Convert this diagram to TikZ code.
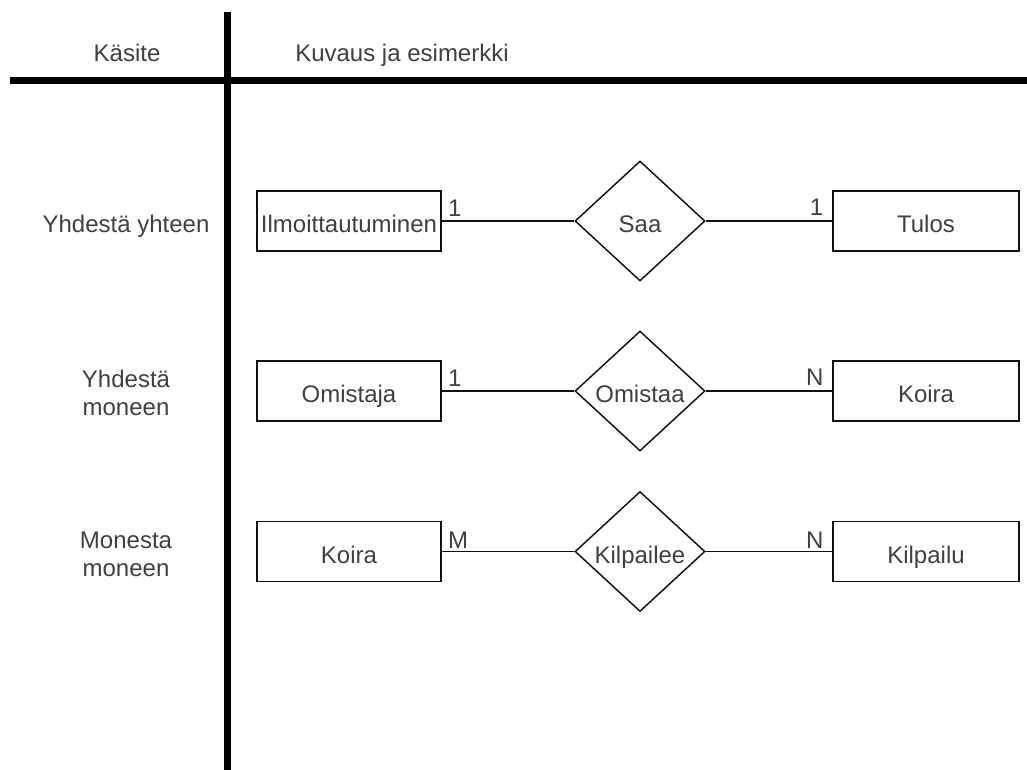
\documentclass[tikz,border=0pt]{standalone}
\usepackage{fontspec}
\setmainfont{Liberation Sans}
\usetikzlibrary{shapes.geometric}
\definecolor{txt}{HTML}{404040}
\definecolor{ln}{HTML}{111111}
\begin{document}
\begin{tikzpicture}[x=0.75pt,y=-0.75pt,
  every node/.style={font=\fontsize{18}{20.5}\selectfont, text=txt},
  entity/.style={draw=ln, line width=1.1pt, rectangle, inner sep=0pt,
    minimum width=138pt, minimum height=45pt, text height=17.6pt, text depth=0pt},
  relation/.style={draw=ln, line width=1.1pt, diamond, inner sep=0pt,
    minimum width=97.5pt, minimum height=90pt, text height=17.6pt, text depth=0pt},
  conn/.style={draw=ln, line width=1.1pt},
  divider/.style={draw=black, line width=5.25pt},
  cardl/.style={anchor=base west, inner sep=0pt},
  cardr/.style={anchor=base east, inner sep=0pt},
  rowlabel/.style={anchor=base, align=center, inner sep=0pt}]
\useasboundingbox (0,0) rectangle (1027,770);
\fill[white] (0,0) rectangle (1027,770);
% table lines
\draw[divider] (227,12) -- (227,775);
\draw[divider] (10,81) -- (1032,81);
% headers
\node[anchor=base, inner sep=0pt] (hkasite) at (127,62) {Käsite};
\node[anchor=base, inner sep=0pt] (hkuvaus) at (402,62) {Kuvaus ja esimerkki};
% row labels (base = last line)
\node[rowlabel] (r1) at (126,232) {Yhdestä yhteen};
\node[rowlabel] (r2) at (126,415) {Yhdestä\\moneen};
\node[rowlabel] (r3) at (126,576) {Monesta\\moneen};
% row 1
\node[entity] (ilmo) at (349,221) {Ilmoittautuminen};
\node[relation] (saa) at (640,221) {\makebox[0pt]{Saa}};
\node[entity, minimum width=139.5pt] (tulos) at (926,221) {Tulos};
\draw[conn] (ilmo.east) -- (saa.west);
\draw[conn] (saa.east) -- (tulos.west);
\node[cardl] (c1l) at ([xshift=4.5pt,yshift=3.6pt]ilmo.east) {1};
\node[cardr] (c1r) at ([xshift=-6.5pt,yshift=4.2pt]tulos.west) {1};
% row 2
\node[entity] (omistaja) at (349,391) {Omistaja};
\node[relation] (omistaa) at (640,391) {\makebox[0pt]{Omistaa}};
\node[entity, minimum width=139.5pt] (koira1) at (926,391) {Koira};
\draw[conn] (omistaja.east) -- (omistaa.west);
\draw[conn] (omistaa.east) -- (koira1.west);
\node[cardl] (c2l) at ([xshift=4.5pt,yshift=3.6pt]omistaja.east) {1};
\node[cardr] (c2r) at ([xshift=-6.5pt,yshift=4.2pt]koira1.west) {N};
% row 3
\node[entity] (koira2) at (349,551.5) {Koira};
\node[relation] (kilpailee) at (640,551.5) {\makebox[0pt]{Kilpailee}};
\node[entity, minimum width=139.5pt] (kilpailu) at (926,551.5) {Kilpailu};
\draw[conn] (koira2.east) -- (kilpailee.west);
\draw[conn] (kilpailee.east) -- (kilpailu.west);
\node[cardl] (c3l) at ([xshift=4.5pt,yshift=2.6pt]koira2.east) {M};
\node[cardr] (c3r) at ([xshift=-6.5pt,yshift=2.6pt]kilpailu.west) {N};
\end{tikzpicture}
\end{document}
